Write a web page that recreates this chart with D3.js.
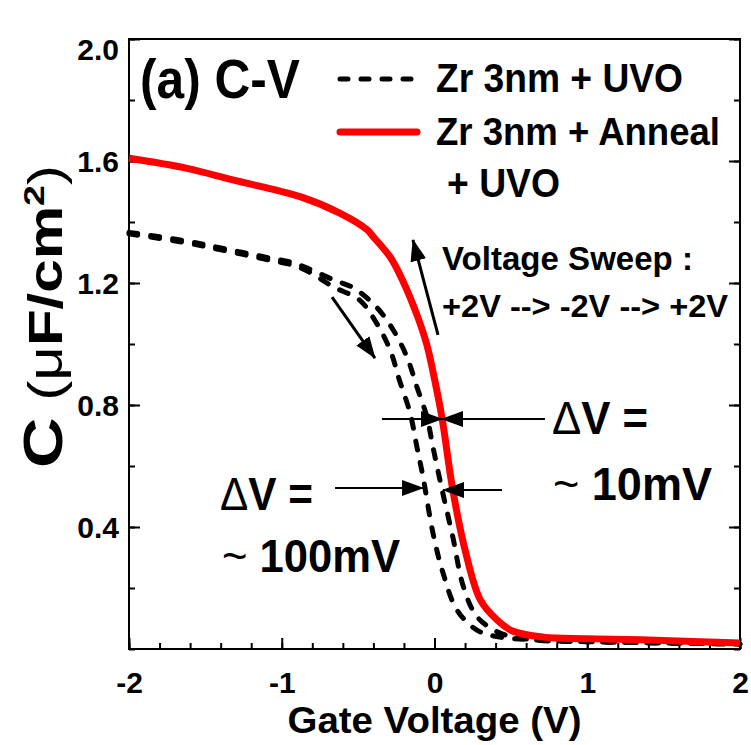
<!DOCTYPE html>
<html>
<head>
<meta charset="utf-8">
<script src="https://d3js.org/d3.v7.min.js"></script>
<style>
  body { margin: 0; background: #fff; }
  text { font-family: "Liberation Sans", Arial, sans-serif; font-weight: bold; fill: #000; }
</style>
</head>
<body>
<div id="chart"></div>
<script>
// values
var annealV = [-2.0, -1.62, -1.32, -0.88, -0.62, -0.44, -0.40, -0.29, -0.21, -0.11, -0.05, 0.00, 0.05, 0.12, 0.20, 0.30, 0.41, 0.51, 0.71, 1.0, 1.35, 2.0];
var annealC = [1.609, 1.576, 1.538, 1.483, 1.429, 1.374, 1.351, 1.285, 1.210, 1.089, 0.997, 0.885, 0.755, 0.521, 0.325, 0.161, 0.095, 0.059, 0.039, 0.034, 0.030, 0.020];

var uvoDownV = [-2.0, -1.65, -1.39, -1.08, -0.93, -0.82, -0.66, -0.49, -0.38, -0.29, -0.23, -0.16, -0.115, -0.075, -0.01, 0.056, 0.147, 0.278, 0.429, 0.645, 1.0, 2.0];
var uvoDownC = [1.361, 1.334, 1.308, 1.275, 1.259, 1.236, 1.187, 1.144, 1.069, 0.980, 0.882, 0.774, 0.662, 0.564, 0.380, 0.249, 0.128, 0.062, 0.039, 0.030, 0.024, 0.016];

var uvoUpV = [-2.0, -1.65, -1.39, -1.08, -0.93, -0.82, -0.66, -0.53, -0.38, -0.27, -0.18, -0.115, -0.05, -0.01, 0.05, 0.12, 0.19, 0.28, 0.43, 0.645, 1.0, 2.0];
var uvoUpC = [1.366, 1.340, 1.314, 1.282, 1.267, 1.246, 1.210, 1.184, 1.121, 1.046, 0.957, 0.859, 0.761, 0.662, 0.521, 0.367, 0.203, 0.105, 0.052, 0.030, 0.024, 0.016];

var xTicks = [-2, -1, 0, 1, 2];
var yTicks = [0.4, 0.8, 1.2, 1.6, 2.0];

// annotation arrows, [V, C] of tail and tip
var arrowTail = [[0.023, 1.030], [-0.671, 1.154], [-0.344, 0.754], [0.723, 0.754], [-0.651, 0.528], [0.442, 0.521]];
var arrowTip  = [[-0.141, 1.341], [-0.390, 0.954], [0.049, 0.754], [0.049, 0.754], [-0.075, 0.528], [0.056, 0.521]];
var arrowWidth = [3, 3, 2, 2, 2, 2];

var margin = {top: 39, right: 11, bottom: 96, left: 129};
var width = 751 - margin.left - margin.right;
var height = 745 - margin.top - margin.bottom;

var svg = d3.select("#chart").append("svg")
    .attr("width", 751)
    .attr("height", 745);

var defs = svg.append("defs");
defs.append("marker")
    .attr("id", "head")
    .attr("markerUnits", "userSpaceOnUse")
    .attr("viewBox", "0 0 22 16")
    .attr("refX", 21).attr("refY", 8)
    .attr("markerWidth", 22).attr("markerHeight", 16)
    .attr("orient", "auto")
  .append("path")
    .attr("d", "M0,0L22,8L0,16Z")
    .attr("fill", "#000");

var g = svg.append("g")
    .attr("transform", "translate(" + margin.left + "," + margin.top + ")");

var x = d3.scaleLinear().domain([-2, 2]).range([0, width]);
var y = d3.scaleLinear().domain([0, 2]).range([height, 0]);

var minorX = d3.range(-2, 2.001, 0.2);
var minorY = d3.range(0, 2.001, 0.2);

function styleAxis(sel) {
  sel.select(".domain").remove();
  sel.selectAll(".tick line").attr("stroke", "#000").attr("stroke-width", 2);
}

// minor ticks
g.append("g").attr("transform", "translate(0," + height + ")")
    .call(d3.axisBottom(x).tickValues(minorX).tickSize(-6).tickFormat(""))
    .call(styleAxis);
g.append("g")
    .call(d3.axisLeft(y).tickValues(minorY).tickSize(-6).tickFormat(""))
    .call(styleAxis);
g.append("g").attr("transform", "translate(" + width + ",0)")
    .call(d3.axisRight(y).tickValues(minorY).tickSize(-6).tickFormat(""))
    .call(styleAxis);

// major ticks
var xAxis = g.append("g").attr("transform", "translate(0," + height + ")")
    .call(d3.axisBottom(x).tickValues(xTicks).tickSize(-11).tickFormat(function(d) { return String(d); }))
    .call(styleAxis);
xAxis.selectAll(".tick text")
    .attr("y", 44).attr("dy", 0)
    .attr("font-size", 30);

var yAxis = g.append("g")
    .call(d3.axisLeft(y).tickValues(yTicks).tickSize(-11).tickFormat(d3.format(".1f")))
    .call(styleAxis);
yAxis.selectAll(".tick text")
    .attr("x", -10)
    .attr("dy", function(d) { return d === 2.0 ? "0.68em" : "0.36em"; })
    .attr("font-size", 30);

g.append("g").attr("transform", "translate(" + width + ",0)")
    .call(d3.axisRight(y).tickValues(yTicks).tickSize(-11).tickFormat(""))
    .call(styleAxis);

// frame
g.append("rect")
    .attr("width", width).attr("height", height)
    .attr("fill", "none").attr("stroke", "#000").attr("stroke-width", 2);

// curves
var line = d3.line()
    .x(function(d) { return x(d[0]); })
    .y(function(d) { return y(d[1]); })
    .curve(d3.curveCatmullRom.alpha(0.5));

function pairs(vs, cs) { return vs.map(function(v, i) { return [v, cs[i]]; }); }

[pairs(uvoDownV, uvoDownC), pairs(uvoUpV, uvoUpC)].forEach(function(d) {
  g.append("path")
      .attr("d", line(d))
      .attr("fill", "none")
      .attr("stroke", "#000")
      .attr("stroke-width", 5)
      .attr("stroke-linecap", "round")
      .attr("stroke-dasharray", "9,13");
});

g.append("path")
    .attr("d", line(pairs(annealV, annealC)))
    .attr("fill", "none")
    .attr("stroke", "#ff0000")
    .attr("stroke-width", 7)
    .attr("stroke-linejoin", "round");

// arrows
arrowTail.forEach(function(t, i) {
  g.append("line")
      .attr("x1", x(t[0])).attr("y1", y(t[1]))
      .attr("x2", x(arrowTip[i][0])).attr("y2", y(arrowTip[i][1]))
      .attr("stroke", "#000")
      .attr("stroke-width", arrowWidth[i])
      .attr("marker-end", "url(#head)");
});

// texts
function label(str, px, py, size, len) {
  var t = svg.append("text")
      .attr("x", px).attr("y", py)
      .attr("font-size", size);
  if (len) t.attr("textLength", len).attr("lengthAdjust", "spacingAndGlyphs");
  if (str) t.text(str);
  return t;
}

label("(a) C-V", 140, 98, 55, 160);

// legend
svg.append("line").attr("x1", 340).attr("x2", 417).attr("y1", 79).attr("y2", 79)
    .attr("stroke", "#000").attr("stroke-width", 5)
    .attr("stroke-linecap", "round").attr("stroke-dasharray", "8,13");
svg.append("line").attr("x1", 340).attr("x2", 417).attr("y1", 132).attr("y2", 132)
    .attr("stroke", "#ff0000").attr("stroke-width", 7).attr("stroke-linecap", "round");
label("Zr 3nm + UVO", 436, 92, 40, 247);
label("Zr 3nm + Anneal", 436, 145, 39, 284);
label("+ UVO", 447, 197, 40, 113);

label("Voltage Sweep :", 442, 270, 34, 251);
label("+2V --> -2V --> +2V", 442, 317, 31, 286);

function deltaV(px, py, len) {
  var t = label(null, px, py, 46, len);
  t.append("tspan").style("font-weight", "normal").text("\u0394");
  t.append("tspan").text("V =");
}
function approx(str, px, py, len) {
  var t = label(null, px, py, 46, len);
  t.append("tspan").style("font-weight", "normal").text("~ ");
  t.append("tspan").text(str);
}
deltaV(220, 510, 93);
approx("100mV", 222, 572, 178);
deltaV(552, 434, 96);
approx("10mV", 553, 500, 159);

svg.append("text")
    .attr("text-anchor", "middle")
    .attr("x", margin.left + width / 2)
    .attr("y", 733)
    .attr("font-size", 36)
    .attr("textLength", 294)
    .attr("lengthAdjust", "spacingAndGlyphs")
    .text("Gate Voltage (V)");

var yl = svg.append("text")
    .attr("transform", "translate(62,468) rotate(-90)")
    .attr("font-size", 48)
    .attr("textLength", 303)
    .attr("lengthAdjust", "spacingAndGlyphs");
yl.append("tspan").attr("font-size", 56).text("C");
yl.append("tspan").style("font-weight", "normal").text(" (");
yl.append("tspan").style("font-weight", "normal").text("\u03bc");
yl.append("tspan").text("F/cm");
yl.append("tspan").attr("font-size", 30).attr("dy", -18).text("2");
yl.append("tspan").attr("dy", 18).style("font-weight", "normal").text(")");
</script>
</body>
</html>
